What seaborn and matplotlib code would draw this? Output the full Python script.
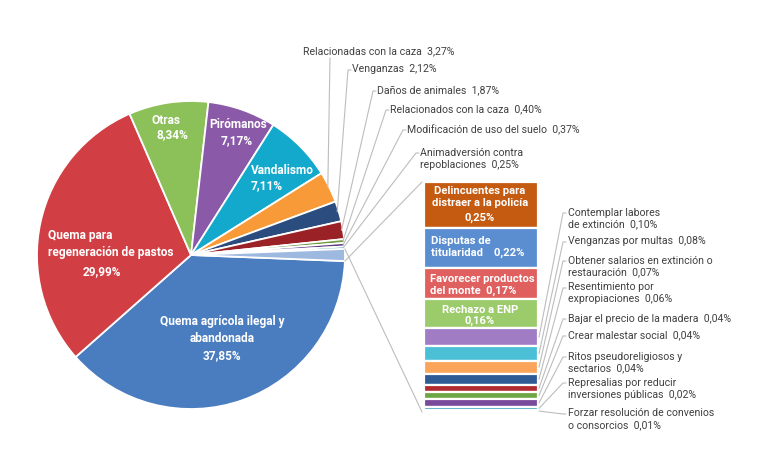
import numpy as np
import seaborn as sns
import matplotlib.pyplot as plt

# data (percent of fires by motive)
pie_labels = ["Quema agrícola ilegal y\nabandonada", "Quema para\nregeneración de pastos", "Otras",
              "Pirómanos", "Vandalismo", "Relacionadas con la caza", "Venganzas", "Daños de animales",
              "Relacionados con la caza", "Modificación de uso del suelo", "Animadversión contra\nrepoblaciones"]
pie_values = [37.85, 29.99, 8.34, 7.17, 7.11, 3.27, 2.12, 1.87, 0.40, 0.37, 0.25]
pie_colors = ["#4A7CC0", "#D13E43", "#8CC15A", "#8A59A8", "#12A9CC", "#F99A38", "#2B4C7E",
              "#9A2227", "#6E9A3C", "#5A3E7E", "#2E8FA8"]

bar_labels = ["Delincuentes para\ndistraer a la policía", "Disputas de\ntitularidad", "Favorecer productos\ndel monte",
              "Rechazo a ENP", "Contemplar labores\nde extinción", "Venganzas por multas",
              "Obtener salarios en extinción o\nrestauración", "Resentimiento por\nexpropiaciones",
              "Bajar el precio de la madera", "Crear malestar social", "Ritos pseudoreligiosos y\nsectarios",
              "Represalias por reducir\ninversiones públicas", "Forzar resolución de convenios\no consorcios"]
bar_values = [0.25, 0.22, 0.17, 0.16, 0.10, 0.08, 0.07, 0.06, 0.04, 0.04, 0.04, 0.02, 0.01]
bar_colors = ["#C55A11", "#5A8ED0", "#E0605F", "#9CCB6B", "#A07CC5", "#4BBFD6", "#FBA55A",
              "#2E5A96", "#B02A30", "#6DA644", "#7A4A9A", "#2A99B5", "#F6A04D"]
other_color = "#9DB9E0"


def pct(v):
    return f"{v:.2f}".replace(".", ",") + "%"


W, H = 767, 455
Y = lambda py: H - py   # work in pixel coords of the reference

sns.set_theme(style="white")
plt.rcParams["font.family"] = ["Roboto", "DejaVu Sans"]
grey_txt = "#404040"
line_col = "#BDBDBD"

fig = plt.figure(figsize=(W / 100, H / 100), dpi=100)
ax = fig.add_axes([0, 0, 1, 1])

# ---- pie ----
cx, cy, r = 191, Y(255), 154
other_total = sum(bar_values)
values = pie_values + [other_total]
colors = pie_colors + [other_color]
start = -other_total / 100 * 360 / 2
wedges, _ = ax.pie(values, colors=colors, startangle=start, counterclock=False,
                   center=(cx, cy), radius=r,
                   wedgeprops=dict(edgecolor="white", linewidth=1.3))


def edge_point(w, frac=1.0):
    a = np.deg2rad((w.theta1 + w.theta2) / 2)
    return cx + r * frac * np.cos(a), cy + r * frac * np.sin(a)


# labels inside big slices
bold = dict(color="white", fontsize=8.6, fontweight="bold", ha="center", va="center", linespacing=1.45)
ax.text(222, Y(330), pie_labels[0], **bold)
ax.text(222, Y(356), pct(pie_values[0]), **bold)
ax.text(48, Y(244), pie_labels[1], **{**bold, "ha": "left"})
ax.text(102, Y(272), pct(pie_values[1]), **bold)
ax.text(166, Y(120), pie_labels[2], **bold)
ax.text(172, Y(135), pct(pie_values[2]), **bold)
ax.text(238, Y(125), pie_labels[3], **bold)
ax.text(237, Y(141), pct(pie_values[3]), **bold)
ax.text(282, Y(171), pie_labels[4], **bold)
ax.text(267, Y(186), pct(pie_values[4]), **bold)

# outside labels for the small pie slices
out_pos = [(303, 52), (352, 70), (377, 91), (390, 110), (407, 130), (420, 153)]
for i, (tx, ty) in zip(range(5, 11), out_pos):
    ax.text(tx, Y(ty) + 5.5, pie_labels[i] + "  " + pct(pie_values[i]),
            fontsize=7.6, color=grey_txt, ha="left", va="top", linespacing=1.25)
    ex, ey = edge_point(wedges[i], 0.99)
    if i == 5:
        ax.plot([330, ex], [Y(58), ey], color=line_col, lw=0.8)
    else:
        ax.plot([tx - 1, tx - 4, ex], [Y(ty), Y(ty), ey], color=line_col, lw=0.8)

# ---- bar of the "other" slice ----
bx0, bx1 = 424, 538
btop, bbot = Y(182), Y(412)
scale = (btop - bbot) / other_total
tops = btop - np.concatenate([[0], np.cumsum(bar_values)[:-1]]) * scale
heights = np.array(bar_values) * scale
ax.bar([(bx0 + bx1) / 2] * len(bar_values), -heights, bottom=tops, width=bx1 - bx0,
       color=bar_colors, edgecolor="white", linewidth=1.6)
mids = tops - heights / 2

# connectors pie -> bar
ow = wedges[-1]
for ang, by in [(ow.theta1, btop), (ow.theta2, bbot)]:
    a = np.deg2rad(ang)
    ax.plot([cx + r * np.cos(a), bx0 - 2], [cy + r * np.sin(a), by], color=line_col, lw=0.8)

# labels inside the four biggest segments
inner = dict(color="white", fontsize=8.1, fontweight="bold", va="center", linespacing=1.25)
ax.text(480, Y(197.5), bar_labels[0], ha="center", **inner)
ax.text(480, Y(218), pct(bar_values[0]), ha="center", **inner)
ax.text(431, Y(247), "Disputas de\ntitularidad    " + pct(bar_values[1]), ha="left", **inner)
ax.text(430, Y(285), "Favorecer productos\ndel monte  " + pct(bar_values[2]), ha="left", **inner)
ax.text(480, Y(310), bar_labels[3], ha="center", **inner)
ax.text(480, Y(321), pct(bar_values[3]), ha="center", **inner)

# labels to the right of the small segments
right_y = [213, 242, 261, 288, 319, 336, 357, 383, 414]
for k, ly in zip(range(4, 13), right_y):
    ax.text(568, Y(ly) + 5.5, bar_labels[k] + "  " + pct(bar_values[k]), fontsize=7.6,
            color=grey_txt, ha="left", va="top", linespacing=1.25)
    ax.plot([bx1 + 1, 563, 566], [mids[k], Y(ly), Y(ly)], color=line_col, lw=0.8)

ax.set_xlim(0, W)
ax.set_ylim(0, H)
ax.set_aspect("equal")
ax.axis("off")
fig.savefig("out.png", dpi=100, facecolor="white")
